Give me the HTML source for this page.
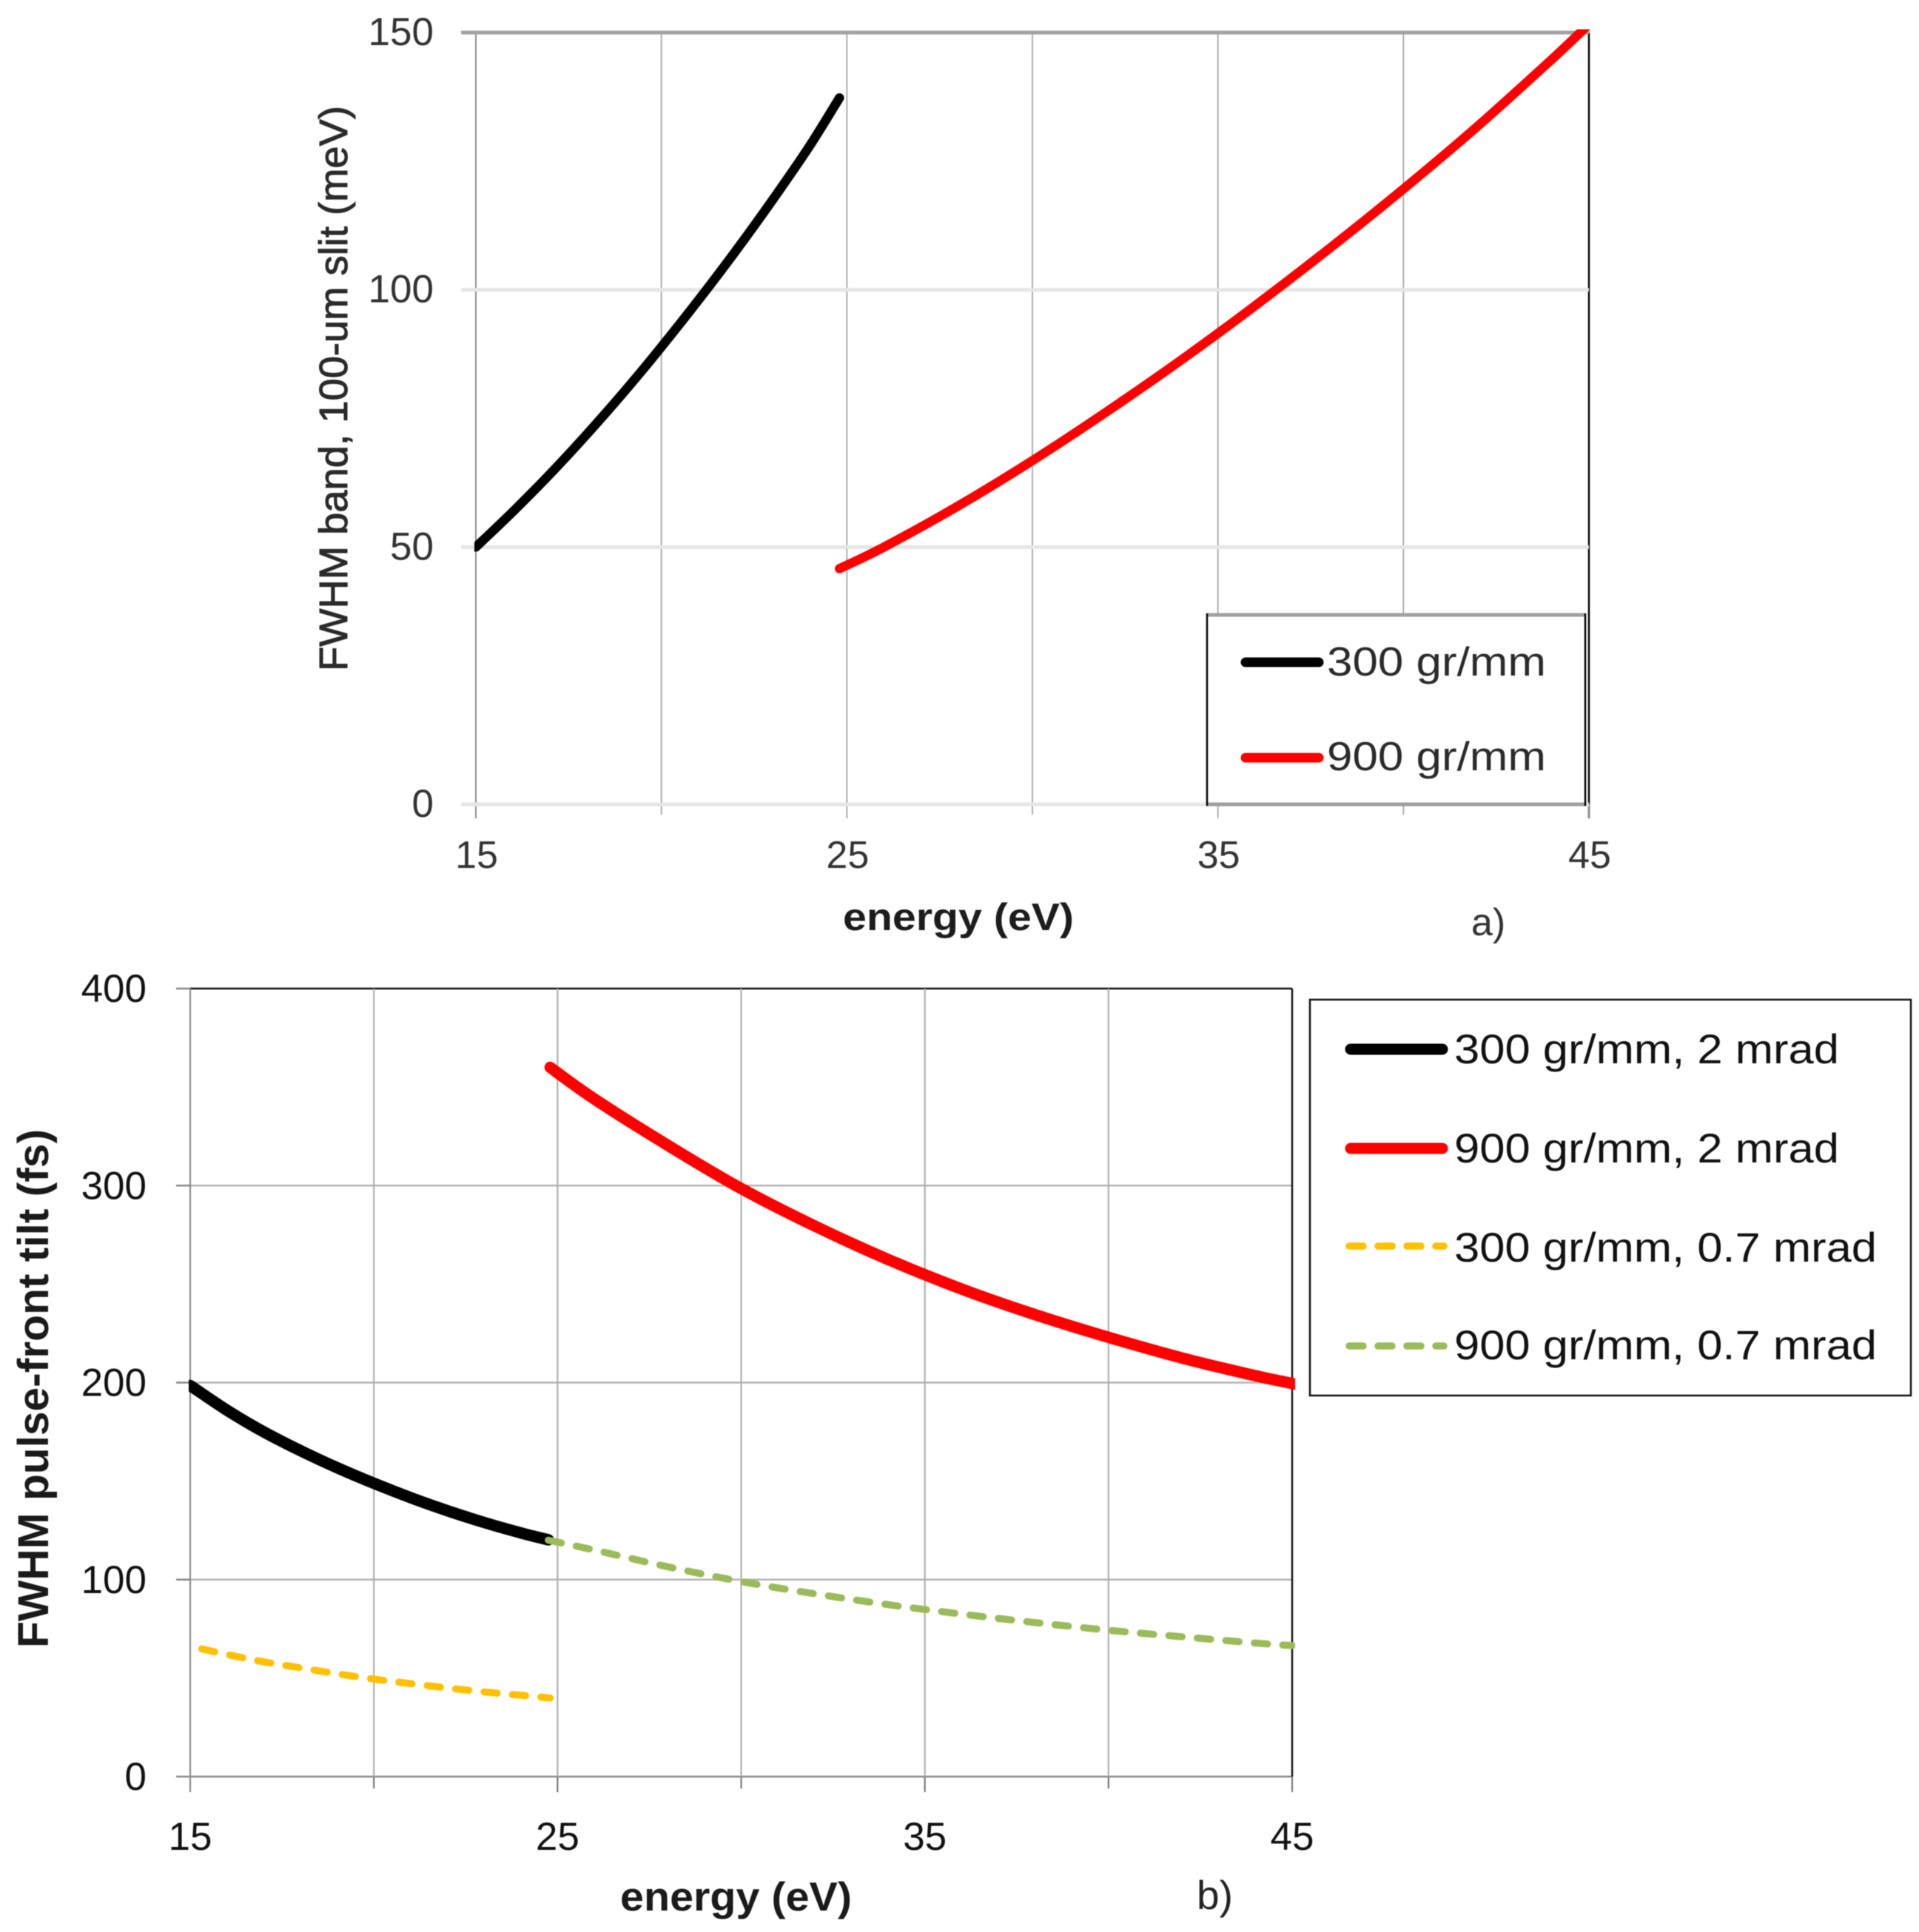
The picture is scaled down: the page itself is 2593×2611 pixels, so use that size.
<!DOCTYPE html>
<html lang="en">
<head>
<meta charset="utf-8">
<title>FWHM band and pulse-front tilt versus energy</title>
<style>
html,body{margin:0;padding:0;background:#fff;}
svg{display:block;font-family:"Liberation Sans",sans-serif;filter:blur(0.6px);}
</style>
</head>
<body>
<svg id="figure" xmlns="http://www.w3.org/2000/svg" width="2593" height="2611" viewBox="0 0 2593 2611">
  <defs>
    <clipPath id="clip-a"><rect x="641" y="39.5" width="1510" height="1060"/></clipPath>
    <clipPath id="clip-b"><rect x="255" y="1330" width="1495" height="1080"/></clipPath>
  </defs>
  <rect width="2593" height="2611" fill="#fff"/>
  <g id="chart-a"></g>
  <g id="chart-b"></g>

  <text transform="translate(469,907) rotate(-90)" font-size="54" fill="#2a2a2a" stroke="#2a2a2a" stroke-width="1" textLength="764" lengthAdjust="spacingAndGlyphs">FWHM band, 100-um slit (meV)</text>
  <text x="1139" y="1257" font-size="52" font-weight="700" fill="#1c1c1c" textLength="312" lengthAdjust="spacingAndGlyphs">energy (eV)</text>
  <text x="1988" y="1264" font-size="52" fill="#333">a)</text>

  <g>
    <rect x="1631" y="831" width="511" height="256" fill="#fff"/>
    <line x1="1630" y1="831" x2="2143" y2="831" stroke="#a0a0a0" stroke-width="5"/>
    <line x1="1630" y1="1087" x2="2143" y2="1087" stroke="#a0a0a0" stroke-width="5"/>
    <line x1="1631" y1="829" x2="1631" y2="1089" stroke="#000" stroke-width="2.5"/>
    <line x1="2142" y1="829" x2="2142" y2="1089" stroke="#000" stroke-width="2.5"/>
    <line x1="1683" y1="895" x2="1782" y2="895" stroke="#000" stroke-width="13" stroke-linecap="round"/>
    <text x="1793" y="913" font-size="55" fill="#2a2a2a" textLength="296" lengthAdjust="spacingAndGlyphs">300 gr/mm</text>
    <line x1="1683" y1="1024" x2="1782" y2="1024" stroke="#f00" stroke-width="13" stroke-linecap="round"/>
    <text x="1793" y="1041" font-size="55" fill="#2a2a2a" textLength="296" lengthAdjust="spacingAndGlyphs">900 gr/mm</text>
  </g>

  <text transform="translate(65,2227) rotate(-90)" font-size="58" font-weight="700" fill="#1a1a1a" textLength="701" lengthAdjust="spacingAndGlyphs">FWHM pulse-front tilt (fs)</text>
  <text x="838" y="2582" font-size="55" font-weight="700" fill="#1a1a1a" textLength="313" lengthAdjust="spacingAndGlyphs">energy (eV)</text>
  <text x="1617" y="2580" font-size="55" fill="#222">b)</text>

  <g>
    <rect x="1770" y="1351" width="812" height="535" fill="#fff" stroke="#111" stroke-width="2.5"/>
    <line x1="1825" y1="1418" x2="1949" y2="1418" stroke="#000" stroke-width="15" stroke-linecap="round"/>
    <text x="1965" y="1437" font-size="56" fill="#111" textLength="520" lengthAdjust="spacingAndGlyphs">300 gr/mm, 2 mrad</text>
    <line x1="1825" y1="1552" x2="1949" y2="1552" stroke="#f00" stroke-width="15" stroke-linecap="round"/>
    <text x="1965" y="1571" font-size="56" fill="#111" textLength="520" lengthAdjust="spacingAndGlyphs">900 gr/mm, 2 mrad</text>
    <line x1="1823" y1="1684" x2="1951" y2="1684" stroke="#ffc000" stroke-width="9.5" stroke-linecap="round" stroke-dasharray="19 20"/>
    <text x="1965" y="1705" font-size="56" fill="#111" textLength="571" lengthAdjust="spacingAndGlyphs">300 gr/mm, 0.7 mrad</text>
    <line x1="1823" y1="1819" x2="1951" y2="1819" stroke="#9bbb59" stroke-width="9.5" stroke-linecap="round" stroke-dasharray="19 20"/>
    <text x="1965" y="1837" font-size="56" fill="#111" textLength="571" lengthAdjust="spacingAndGlyphs">900 gr/mm, 0.7 mrad</text>
  </g>
</svg>

<script>
// Shared x-axis values
const xMajorTicks = [15, 25, 35, 45];
const xMinorTicks = [20, 30, 40];

// Chart a: FWHM band (meV)
const bandTicks = [0, 50, 100, 150];
const band300Energy = [15, 16, 17, 18, 19, 20, 21, 22, 23, 24, 24.8];
const band300Values = [50, 56.9, 64.2, 72, 80.2, 88.9, 98, 107.5, 117.5, 128, 137.3];
const band900Energy = [24.8, 26, 28, 30, 32, 34, 36, 38, 40, 42, 44, 45];
const band900Values = [45.8, 50, 58, 66.8, 76.3, 86.3, 96.9, 108, 119.6, 131.8, 144.8, 151.6];

// Chart b: FWHM pulse-front tilt (fs)
const tiltTicks = [0, 100, 200, 300, 400];
const tilt300Energy = [15, 16, 17, 18, 19, 20, 21, 22, 23, 24, 24.75];
const tilt300Values = [198.5, 186, 175, 165.5, 156.8, 148.9, 141.6, 135, 129, 123.7, 120.2];
const tilt900Energy = [24.8, 26, 28, 30, 32, 34, 36, 38, 40, 42, 44, 45.1];
const tilt900Values = [360, 344, 320.5, 298.5, 279.5, 262.5, 247.5, 234.5, 223, 212.5, 203.5, 199.2];
const tiltLow300Energy = [15, 16, 17, 18, 19, 20, 21, 22, 23, 24, 24.8];
const tiltLow300Values = [66.2, 62, 58.3, 55.2, 52.2, 49.5, 47.2, 45, 43, 41.3, 39.9];
const tiltLow900Energy = [24.75, 26, 28, 30, 32, 34, 36, 38, 40, 42, 44, 45];
const tiltLow900Values = [120, 115, 106.5, 99, 92.8, 87.3, 82.5, 78.2, 74.3, 71, 67.8, 66.5];

const NS = 'http://www.w3.org/2000/svg';

function make(parent, tag, attrs, text) {
  const el = document.createElementNS(NS, tag);
  for (const k in attrs) el.setAttribute(k, attrs[k]);
  if (text !== undefined) el.textContent = text;
  parent.appendChild(el);
  return el;
}

function xA(e) { return 643 + (e - 15) * (2147 - 643) / 30; }
function yA(v) { return 1087 - v * (1087 - 44) / 150; }
function xB(e) { return 257 + (e - 15) * (1746 - 257) / 30; }
function yB(v) { return 2401 - v * (2401 - 1336) / 400; }

// Smooth path through the data points (Catmull-Rom converted to cubic Beziers)
function curveOf(energy, values, xf, yf) {
  const p = energy.map(function (e, i) { return [xf(e), yf(values[i])]; });
  let d = 'M' + p[0][0].toFixed(1) + ' ' + p[0][1].toFixed(1);
  for (let i = 0; i < p.length - 1; i++) {
    const a = p[Math.max(i - 1, 0)];
    const b = p[i];
    const c = p[i + 1];
    const e = p[Math.min(i + 2, p.length - 1)];
    const c1x = b[0] + (c[0] - a[0]) / 6;
    const c1y = b[1] + (c[1] - a[1]) / 6;
    const c2x = c[0] - (e[0] - b[0]) / 6;
    const c2y = c[1] - (e[1] - b[1]) / 6;
    d += 'C' + c1x.toFixed(1) + ' ' + c1y.toFixed(1) + ' ' + c2x.toFixed(1) + ' ' + c2y.toFixed(1) + ' ' + c[0].toFixed(1) + ' ' + c[1].toFixed(1);
  }
  return d;
}

function drawSeries(parent, name, energy, values, xf, yf, color, width, clipId, dash, dashOffset) {
  const attrs = {
    d: curveOf(energy, values, xf, yf),
    fill: 'none',
    stroke: color,
    'stroke-width': width,
    'stroke-linecap': 'round',
    'stroke-linejoin': 'round',
    'clip-path': 'url(#' + clipId + ')'
  };
  if (dash) {
    attrs['stroke-dasharray'] = dash;
    attrs['stroke-dashoffset'] = dashOffset;
  }
  const el = make(parent, 'path', attrs);
  
  
}

/* ---------- Chart a ---------- */
const chartA = document.getElementById('chart-a');

xMinorTicks.concat(xMajorTicks).forEach(function (t) {
  const major = xMajorTicks.indexOf(t) >= 0;
  const isLeft = t === 15;
  const isRight = t === 45;
  const grid = make(chartA, 'line', {
    x1: xA(t), x2: xA(t), y1: yA(150), y2: yA(0) + (major ? 19 : 14),
    stroke: isRight ? '#000' : (isLeft ? '#888' : '#aaa'),
    'stroke-width': isRight ? 2.5 : 1.9
  });
  
  
  if (isRight) {
    const tail = make(chartA, 'line', { x1: xA(t), x2: xA(t), y1: yA(0), y2: yA(0) + 19, stroke: '#999', 'stroke-width': 1.9 });
    
    
  }
});

bandTicks.forEach(function (t) {
  const top = t === 150;
  const grid = make(chartA, 'line', {
    x1: xA(15) - 20, x2: xA(45), y1: yA(t), y2: yA(t),
    stroke: top ? '#a2a2a2' : '#e6e6e6',
    'stroke-width': 5
  });
  
  
  const label = make(chartA, 'text', {
    x: 586, y: yA(t) + 17, 'font-size': 53, fill: '#333', 'text-anchor': 'end',
    textLength: String(t).length * 29.5, lengthAdjust: 'spacingAndGlyphs'
  }, String(t));
  
  
});

xMajorTicks.forEach(function (t) {
  const label = make(chartA, 'text', {
    x: xA(t) + 1, y: 1173, 'font-size': 52, fill: '#333', 'text-anchor': 'middle'
  }, String(t));
  
  
});

drawSeries(chartA, 'series-300-gr-mm', band300Energy, band300Values, xA, yA, '#000', 12.5, 'clip-a');
drawSeries(chartA, 'series-900-gr-mm', band900Energy, band900Values, xA, yA, '#f00', 12.5, 'clip-a');

/* ---------- Chart b ---------- */
const chartB = document.getElementById('chart-b');

tiltTicks.forEach(function (t) {
  const edge = t === 400;
  const isZero = t === 0;
  const tick = make(chartB, 'line', { x1: xB(15) - 19, x2: xB(15), y1: yB(t), y2: yB(t), stroke: '#888', 'stroke-width': 2.5 });
  
  
  const grid = make(chartB, 'line', {
    x1: xB(15), x2: xB(45), y1: yB(t), y2: yB(t),
    stroke: edge ? '#111' : (isZero ? '#888' : '#b4b4b4'),
    'stroke-width': 2.6
  });
  
  
  const label = make(chartB, 'text', {
    x: 198, y: yB(t) + 18, 'font-size': 53, fill: '#111', 'text-anchor': 'end'
  }, String(t));
  
  
});

xMinorTicks.concat(xMajorTicks).forEach(function (t) {
  const major = xMajorTicks.indexOf(t) >= 0;
  const grid = make(chartB, 'line', {
    x1: xB(t), x2: xB(t), y1: yB(400), y2: yB(0) + (major ? 21 : 16),
    stroke: t === 15 ? '#8c8c8c' : '#b0b0b0',
    'stroke-width': 2.2
  });
  
  
  if (t !== 15) {
    const tick = make(chartB, 'line', { x1: xB(t), x2: xB(t), y1: yB(0), y2: yB(0) + (major ? 21 : 16), stroke: '#777', 'stroke-width': 2 });
    
    
  }
});

const rightEdge = make(chartB, 'line', { x1: xB(45), x2: xB(45), y1: yB(400), y2: yB(0), stroke: '#111', 'stroke-width': 2.4 });



xMajorTicks.forEach(function (t) {
  const label = make(chartB, 'text', {
    x: xB(t), y: 2500, 'font-size': 53, fill: '#111', 'text-anchor': 'middle'
  }, String(t));
  
  
});

drawSeries(chartB, 'series-300-gr-mm-2-mrad', tilt300Energy, tilt300Values, xB, yB, '#000', 15.5, 'clip-b');
drawSeries(chartB, 'series-900-gr-mm-2-mrad', tilt900Energy, tilt900Values, xB, yB, '#f00', 15.5, 'clip-b');
drawSeries(chartB, 'series-300-gr-mm-0-7-mrad', tiltLow300Energy, tiltLow300Values, xB, yB, '#ffc000', 9.5, 'clip-b', '18 20.6', 22.6);
drawSeries(chartB, 'series-900-gr-mm-0-7-mrad', tiltLow900Energy, tiltLow900Values, xB, yB, '#9bbb59', 9.5, 'clip-b', '18 20.6', 0);
</script>
</body>
</html>
